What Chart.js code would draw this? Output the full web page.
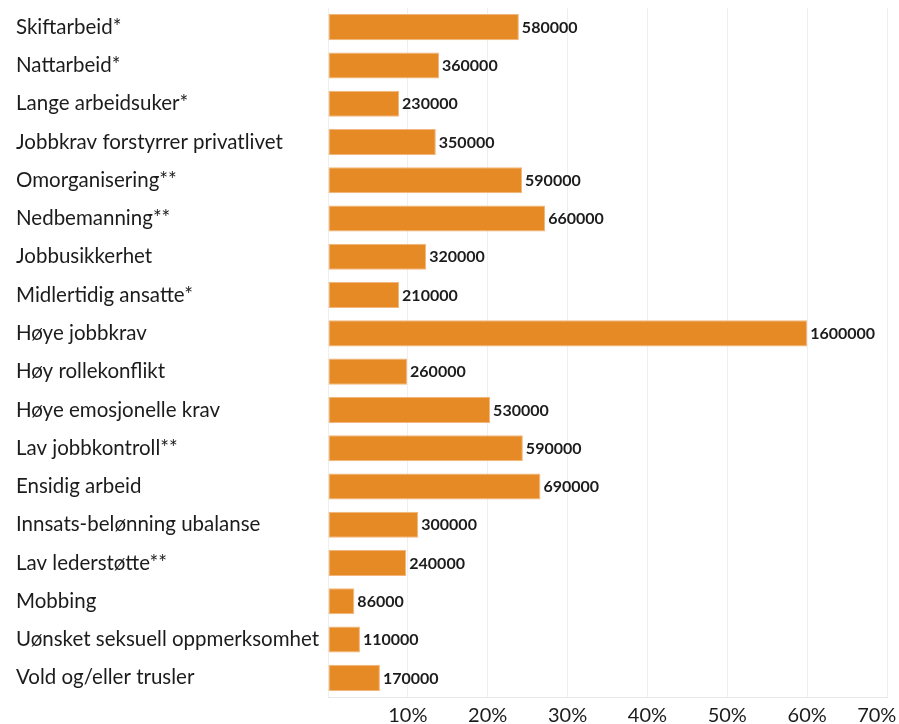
<!DOCTYPE html>
<html>
<head>
<meta charset="utf-8">
<script src="https://cdn.jsdelivr.net/npm/chart.js@4.4.0/dist/chart.umd.min.js"></script>
<style>
  html, body { margin: 0; padding: 0; background: #ffffff; }
  #wrap { width: 899px; height: 724px; }
</style>
</head>
<body>
<div id="wrap"><canvas id="c" width="899" height="724"></canvas></div>
<script>
// Exposure categories (top to bottom)
const categories = [
  'Skiftarbeid*',
  'Nattarbeid*',
  'Lange arbeidsuker*',
  'Jobbkrav forstyrrer privatlivet',
  'Omorganisering**',
  'Nedbemanning**',
  'Jobbusikkerhet',
  'Midlertidig ansatte*',
  'Høye jobbkrav',
  'Høy rollekonflikt',
  'Høye emosjonelle krav',
  'Lav jobbkontroll**',
  'Ensidig arbeid',
  'Innsats-belønning ubalanse',
  'Lav lederstøtte**',
  'Mobbing',
  'Uønsket seksuell oppmerksomhet',
  'Vold og/eller trusler'
];

// Share of employees exposed, in percent
const shares = [23.9, 13.9, 8.9, 13.5, 24.3, 27.2, 12.3, 8.9, 60.0, 9.9, 20.3, 24.4, 26.6, 11.3, 9.8, 3.3, 4.0, 6.5];

// Number of employees exposed
const counts = [580000, 360000, 230000, 350000, 590000, 660000, 320000, 210000, 1600000, 260000, 530000, 590000, 690000, 300000, 240000, 86000, 110000, 170000];

// Percent ticks along the x axis
const tickValues = [0, 10, 20, 30, 40, 50, 60, 70];

const FONT = 'Lato, "Open Sans", sans-serif';
const TEXT = '#1c1c1c';

// Writes the head count just right of each bar
const countLabels = {
  id: 'countLabels',
  afterDatasetsDraw(chart) {
    const ctx = chart.ctx;
    const meta = chart.getDatasetMeta(0);
    ctx.save();
    ctx.font = 'bold 16px ' + FONT;
    ctx.fillStyle = TEXT;
    ctx.textAlign = 'left';
    ctx.textBaseline = 'middle';
    meta.data.forEach((bar, i) => {
      ctx.fillText(String(counts[i]), bar.x + 3, bar.y + 0.5);
    });
    ctx.restore();
  }
};

new Chart(document.getElementById('c'), {
  type: 'bar',
  data: {
    labels: categories,
    datasets: [{
      data: shares,
      backgroundColor: '#E68A25',
      borderColor: '#F2B57C',
      borderWidth: 1,
      borderSkipped: false,
      barPercentage: 0.68,
      categoryPercentage: 1.0
    }]
  },
  options: {
    indexAxis: 'y',
    responsive: false,
    animation: false,
    layout: { padding: { left: 16, top: 8, right: 12, bottom: 0 } },
    plugins: {
      legend: { display: false },
      tooltip: { enabled: false }
    },
    scales: {
      x: {
        min: 0,
        max: 70,
        afterBuildTicks(scale) {
          scale.ticks = tickValues.map(v => ({ value: v }));
        },
        afterFit(scale) {
          scale.paddingLeft = 0;
          scale.paddingRight = 0;
          scale.height = 27;
        },
        ticks: {
          // the last label is nudged inward so it stays on the canvas
          callback: v => (v === 0 ? '' : v === 70 ? v + '%    ' : v + '%'),
          font: { family: FONT, size: 20 },
          color: TEXT,
          padding: 7,
          maxRotation: 0
        },
        grid: { color: '#efefef', lineWidth: 1, tickLength: 0 },
        border: { color: '#e8e8e8' }
      },
      y: {
        afterFit(scale) {
          scale.width = 312;
          scale.paddingTop = 0;
          scale.paddingBottom = 0;
        },
        ticks: {
          crossAlign: 'far',
          font: { family: FONT, size: 20.5 },
          color: TEXT,
          padding: 0
        },
        grid: { display: false },
        border: { display: false }
      }
    }
  },
  plugins: [countLabels]
});
</script>
</body>
</html>
